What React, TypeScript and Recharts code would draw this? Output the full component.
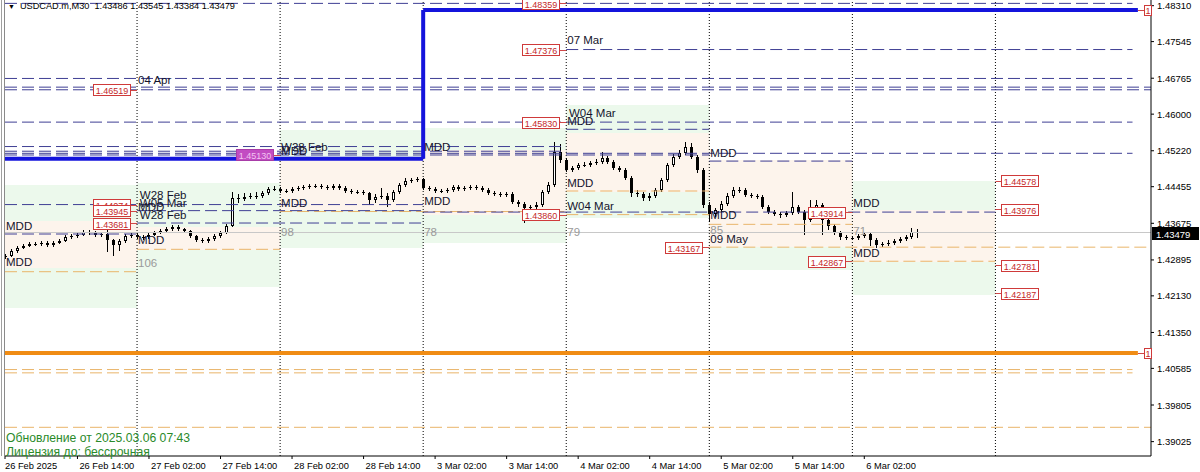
import React from 'react';
import { ComposedChart, Bar, XAxis, YAxis, ReferenceLine, ReferenceArea, ReferenceDot } from 'recharts';

const FONT = '"Liberation Sans", Arial, sans-serif';
const W = 1200;
const H = 472;
const X_MIN = 1.846;
const X_MAX = 194.1;
const Y_MAX = 1.48431;
const Y_MIN = 1.38719;

// ---- axis ticks ----
const timeTicks = [1.846, 14, 26, 38, 50, 62, 74, 86, 98, 110, 122, 134, 146];
const timeLabels = ['26 Feb 2025', '26 Feb 14:00', '27 Feb 02:00', '27 Feb 14:00', '28 Feb 02:00', '28 Feb 14:00', '3 Mar 02:00', '3 Mar 14:00', '4 Mar 02:00', '4 Mar 14:00', '5 Mar 02:00', '5 Mar 14:00', '6 Mar 02:00'];
const priceTicks = [1.4831, 1.47545, 1.46765, 1.46, 1.4522, 1.44455, 1.43675, 1.42895, 1.4213, 1.4135, 1.40585, 1.39805, 1.39025];
const daySeparators = [24, 48, 72, 96, 120, 144, 168];
const currentPrice = 1.43479;

// ---- candles (hourly, hours since 26 Feb 00:00, weekend removed) ----
const firstOpen = 1.4296;
const closes = [
  1.4298, 1.4309, 1.4315, 1.4319, 1.4323, 1.4323, 1.4326, 1.4321, 1.4326, 1.4330,
  1.4338, 1.4340, 1.4343, 1.4349, 1.4347, 1.4343, 1.4345, 1.4332, 1.4321, 1.4330,
  1.4340, 1.4343, 1.4338, 1.4338, 1.4343, 1.4347, 1.4351, 1.4355, 1.4360, 1.4355,
  1.4351, 1.4340, 1.4332, 1.4330, 1.4334, 1.4340, 1.4347, 1.4362, 1.4421, 1.4419,
  1.4424, 1.4426, 1.4426, 1.4432, 1.4441, 1.4441, 1.4436, 1.4436, 1.4441, 1.4443,
  1.4445, 1.4447, 1.4447, 1.4445, 1.4443, 1.4447, 1.4443, 1.4436, 1.4434, 1.4434,
  1.4432, 1.4417, 1.4424, 1.4426, 1.4417, 1.4434, 1.4449, 1.4458, 1.4460, 1.4462,
  1.4443, 1.4441, 1.4436, 1.4436, 1.4438, 1.4445, 1.4441, 1.4443, 1.4445, 1.4443,
  1.4438, 1.4432, 1.4430, 1.4428, 1.4430, 1.4413, 1.4409, 1.4400, 1.4402, 1.4407,
  1.4434, 1.4449, 1.4519, 1.4502, 1.4481, 1.4485, 1.4492, 1.4492, 1.4496, 1.4498,
  1.4507, 1.4498, 1.4485, 1.4481, 1.4464, 1.4432, 1.4430, 1.4421, 1.4426, 1.4438,
  1.4460, 1.4492, 1.4509, 1.4517, 1.4530, 1.4509, 1.4481, 1.4407, 1.4387, 1.4396,
  1.4409, 1.4426, 1.4438, 1.4438, 1.4428, 1.4426, 1.4424, 1.4402, 1.4392, 1.4387,
  1.4385, 1.4389, 1.4402, 1.4392, 1.4375, 1.4396, 1.4407, 1.4375, 1.4362, 1.4347,
  1.4338, 1.4336, 1.4336, 1.4340, 1.4345, 1.4332, 1.4321, 1.4323, 1.4326, 1.4330,
  1.4334, 1.4338, 1.4349, 1.4348,
];
const highs = [
  1.4302, 1.4313, 1.4319, 1.4323, 1.4327, 1.4328, 1.4330, 1.4329, 1.4330, 1.4334,
  1.4342, 1.4345, 1.4347, 1.4353, 1.4353, 1.4351, 1.4349, 1.4360, 1.4335, 1.4334,
  1.4344, 1.4348, 1.4347, 1.4343, 1.4347, 1.4351, 1.4355, 1.4359, 1.4364, 1.4363,
  1.4358, 1.4354, 1.4343, 1.4336, 1.4338, 1.4344, 1.4351, 1.4366, 1.4434, 1.4430,
  1.4432, 1.4432, 1.4434, 1.4437, 1.4445, 1.4447, 1.4445, 1.4441, 1.4445, 1.4448,
  1.4449, 1.4452, 1.4451, 1.4451, 1.4449, 1.4452, 1.4451, 1.4447, 1.4440, 1.4439,
  1.4438, 1.4435, 1.4429, 1.4443, 1.4431, 1.4439, 1.4454, 1.4463, 1.4465, 1.4467,
  1.4464, 1.4448, 1.4445, 1.4441, 1.4443, 1.4450, 1.4449, 1.4448, 1.4450, 1.4449,
  1.4447, 1.4442, 1.4436, 1.4434, 1.4435, 1.4434, 1.4417, 1.4413, 1.4407, 1.4413,
  1.4439, 1.4456, 1.4541, 1.4536, 1.4506, 1.4490, 1.4497, 1.4498, 1.4501, 1.4504,
  1.4519, 1.4511, 1.4502, 1.4489, 1.4485, 1.4468, 1.4439, 1.4435, 1.4431, 1.4443,
  1.4465, 1.4497, 1.4515, 1.4524, 1.4541, 1.4538, 1.4513, 1.4485, 1.4413, 1.4401,
  1.4414, 1.4431, 1.4444, 1.4444, 1.4442, 1.4432, 1.4430, 1.4428, 1.4406, 1.4396,
  1.4391, 1.4394, 1.4434, 1.4407, 1.4396, 1.4417, 1.4417, 1.4411, 1.4379, 1.4366,
  1.4351, 1.4342, 1.4341, 1.4345, 1.4350, 1.4349, 1.4336, 1.4328, 1.4331, 1.4335,
  1.4339, 1.4343, 1.4357, 1.4355,
];
const lows = [
  1.4292, 1.4295, 1.4305, 1.4312, 1.4316, 1.4319, 1.4320, 1.4317, 1.4318, 1.4323,
  1.4327, 1.4335, 1.4337, 1.4340, 1.4343, 1.4339, 1.4339, 1.4306, 1.4298, 1.4309,
  1.4326, 1.4336, 1.4334, 1.4333, 1.4335, 1.4340, 1.4344, 1.4348, 1.4352, 1.4351,
  1.4347, 1.4336, 1.4328, 1.4325, 1.4326, 1.4330, 1.4337, 1.4344, 1.4360, 1.4411,
  1.4415, 1.4419, 1.4420, 1.4422, 1.4428, 1.4436, 1.4432, 1.4431, 1.4433, 1.4437,
  1.4439, 1.4441, 1.4442, 1.4441, 1.4439, 1.4439, 1.4439, 1.4432, 1.4429, 1.4429,
  1.4427, 1.4407, 1.4411, 1.4419, 1.4402, 1.4413, 1.4430, 1.4445, 1.4454, 1.4455,
  1.4439, 1.4436, 1.4432, 1.4431, 1.4432, 1.4434, 1.4437, 1.4437, 1.4439, 1.4439,
  1.4434, 1.4428, 1.4426, 1.4423, 1.4424, 1.4409, 1.4403, 1.4368, 1.4393, 1.4397,
  1.4403, 1.4429, 1.4445, 1.4497, 1.4476, 1.4476, 1.4481, 1.4487, 1.4488, 1.4492,
  1.4494, 1.4493, 1.4480, 1.4476, 1.4459, 1.4424, 1.4423, 1.4416, 1.4415, 1.4422,
  1.4434, 1.4456, 1.4487, 1.4504, 1.4512, 1.4504, 1.4475, 1.4400, 1.4370, 1.4381,
  1.4391, 1.4404, 1.4421, 1.4432, 1.4423, 1.4421, 1.4419, 1.4397, 1.4387, 1.4382,
  1.4379, 1.4380, 1.4385, 1.4387, 1.4343, 1.4370, 1.4391, 1.4343, 1.4354, 1.4342,
  1.4333, 1.4331, 1.4331, 1.4332, 1.4336, 1.4320, 1.4315, 1.4317, 1.4319, 1.4322,
  1.4326, 1.4330, 1.4334, 1.4337,
];
const firstHour = 2;

// ---- shaded zones ----
const greenZones = [
  { from: 1.846, to: 24, top: 1.44491, bottom: 1.41871 },
  { from: 24, to: 48, top: 1.44533, bottom: 1.42318 },
  { from: 48, to: 72, top: 1.45662, bottom: 1.43149 },
  { from: 72, to: 96, top: 1.45705, bottom: 1.43255 },
  { from: 96, to: 120, top: 1.46195, bottom: 1.43788 },
  { from: 120, to: 144, top: 1.45023, bottom: 1.4268 },
  { from: 144, to: 168, top: 1.44576, bottom: 1.42148 },
];
const peachZones = [
  { from: 1.846, to: 24, top: 1.43724, bottom: 1.42723 },
  { from: 24, to: 48, top: 1.43596, bottom: 1.43106 },
  { from: 48, to: 72, top: 1.45023, bottom: 1.43958 },
  { from: 72, to: 96, top: 1.45236, bottom: 1.43852 },
  { from: 96, to: 120, top: 1.45598, bottom: 1.44342 },
  { from: 120, to: 144, top: 1.45023, bottom: 1.4317 },
  { from: 144, to: 168, top: 1.43958, bottom: 1.42851 },
];

// ---- horizontal levels ----
const navyLevels = [
  { price: 1.48359, from: 1.846, to: 191 },
  { price: 1.47376, from: 96, to: 191 },
  { price: 1.4676, from: 1.846, to: 191 },
  { price: 1.46575, from: 1.846, to: 194.1 },
  { price: 1.46519, from: 1.846, to: 194.1 },
  { price: 1.4583, from: 1.846, to: 191 },
  { price: 1.45677, from: 96, to: 120 },
  { price: 1.4531, from: 1.846, to: 96 },
  { price: 1.4521, from: 1.846, to: 96 },
  { price: 1.45166, from: 1.846, to: 191 },
  { price: 1.4513, from: 1.846, to: 120 },
  { price: 1.45, from: 120, to: 144 },
  { price: 1.44074, from: 1.846, to: 72 },
  { price: 1.43945, from: 24, to: 72 },
  { price: 1.43681, from: 24, to: 72 },
  { price: 1.43447, from: 1.846, to: 24 },
  { price: 1.43914, from: 72, to: 168 },
];
const orangeLevels = [
  { price: 1.42644, from: 1.846, to: 24 },
  { price: 1.43121, from: 24, to: 48 },
  { price: 1.43926, from: 48, to: 96 },
  { price: 1.44363, from: 96, to: 120 },
  { price: 1.4386, from: 96, to: 120 },
  { price: 1.43653, from: 120, to: 144 },
  { price: 1.43167, from: 120, to: 194.1 },
  { price: 1.42867, from: 144, to: 168 },
  { price: 1.4056, from: 1.846, to: 191 },
  { price: 1.4049, from: 1.846, to: 191 },
  { price: 1.3933, from: 1.846, to: 194.1 },
];
const weeklyBlue = { prevLevel: 1.4505, newLevel: 1.4822, switchAt: 72, end: 191.9 };
const orangeThick = { price: 1.40912, end: 191.9 };

// ---- annotations ----
const textNotes = [
  { t: 24, p: 1.46727, text: '04 Apr', grey: false },
  { t: 96, p: 1.47579, text: '07 Mar', grey: false },
  { t: 96.3, p: 1.46024, text: 'W04 Mar', grey: false },
  { t: 96, p: 1.45854, text: 'MDD', grey: false },
  { t: 48, p: 1.453, text: 'W28 Feb', grey: false },
  { t: 48, p: 1.45215, text: 'MDD', grey: false },
  { t: 72, p: 1.453, text: 'MDD', grey: false },
  { t: 24.3, p: 1.44278, text: 'W28 Feb', grey: false },
  { t: 24.3, p: 1.44107, text: 'W05 Mar', grey: false },
  { t: 24, p: 1.44022, text: 'MDD', grey: false },
  { t: 24.3, p: 1.43852, text: 'W28 Feb', grey: false },
  { t: 1.846, p: 1.43617, text: 'MDD', grey: false },
  { t: 24, p: 1.43319, text: 'MDD', grey: false },
  { t: 1.846, p: 1.42851, text: 'MDD', grey: false },
  { t: 24, p: 1.42829, text: '106', grey: true },
  { t: 48, p: 1.44107, text: 'MDD', grey: false },
  { t: 48, p: 1.4349, text: '98', grey: true },
  { t: 72, p: 1.4415, text: 'MDD', grey: false },
  { t: 72, p: 1.4349, text: '78', grey: true },
  { t: 96, p: 1.44533, text: 'MDD', grey: false },
  { t: 96, p: 1.44043, text: 'W04 Mar', grey: false },
  { t: 96, p: 1.4349, text: '79', grey: true },
  { t: 120, p: 1.45172, text: 'MDD', grey: false },
  { t: 120, p: 1.43852, text: 'MDD', grey: false },
  { t: 120, p: 1.43532, text: '85', grey: true },
  { t: 120, p: 1.4334, text: '09 May', grey: false },
  { t: 144, p: 1.44107, text: 'MDD', grey: false },
  { t: 144, p: 1.43511, text: '71', grey: true },
  { t: 144, p: 1.43042, text: 'MDD', grey: false },
];
const priceBoxes = [
  { t: 96, p: 1.48359, side: 'left' },
  { t: 96, p: 1.47376, side: 'left' },
  { t: 24, p: 1.46519, side: 'left' },
  { t: 96, p: 1.4583, side: 'left' },
  { t: 48, p: 1.4513, side: 'left', purple: true },
  { t: 24, p: 1.44074, side: 'left' },
  { t: 24, p: 1.43945, side: 'left' },
  { t: 24, p: 1.43681, side: 'left' },
  { t: 96, p: 1.4386, side: 'left' },
  { t: 120, p: 1.43167, side: 'left' },
  { t: 144, p: 1.43914, side: 'left' },
  { t: 144, p: 1.42867, side: 'left' },
  { t: 168, p: 1.44578, side: 'right' },
  { t: 168, p: 1.43976, side: 'right' },
  { t: 168, p: 1.42781, side: 'right' },
  { t: 168, p: 1.42187, side: 'right' },
];

const headerText = 'USDCAD.m,M30  1.43486 1.43545 1.43384 1.43479';
const infoLines = ['Обновление от 2025.03.06 07:43', 'Лицензия до: бессрочная'];

const candles = closes.map((c, i) => ({
  t: firstHour + i,
  o: i === 0 ? firstOpen : closes[i - 1],
  h: highs[i],
  l: lows[i],
  c,
}));

const NAVY = '#3f3f94';
const ORANGE = '#e9b56a';
const GREEN_BG = '#ecf9ec';
const PEACH_BG = '#fdf4ec';

const Candle = (props: any) => {
  const { x, y, width, height, payload } = props;
  if (!payload || x == null) return null;
  const top = Math.min(y, y + height);
  const hgt = Math.abs(height);
  const { o, h, l, c } = payload;
  const span = h - l || 1e-9;
  const py = (p: number) => top + ((h - p) / span) * hgt;
  const px = Math.round(x + width / 2);
  const bTop = Math.round(py(Math.max(o, c)));
  const bBot = Math.max(bTop + 1, Math.round(py(Math.min(o, c))));
  const bull = c >= o;
  return (
    <g shapeRendering="crispEdges">
      <rect x={px} y={top} width={1} height={hgt} fill="#000" />
      <rect x={px - 1} y={bTop} width={3} height={bBot - bTop} fill="#000" />
      {bull && bBot - bTop > 2 ? <rect x={px} y={bTop + 1} width={1} height={bBot - bTop - 2} fill="#fff" /> : null}
    </g>
  );
};

const XTick = (props: any) => {
  const { x, y, payload } = props;
  const idx = timeTicks.indexOf(payload.value);
  const label = idx >= 0 ? timeLabels[idx] : '';
  return (
    <text x={x + (idx === 0 ? 0 : 2)} y={y + 5} fontSize={9.3} fontFamily={FONT} fill="#000" textAnchor="start" dominantBaseline="central">
      {label}
    </text>
  );
};

const YTick = (props: any) => {
  const { x, y, payload } = props;
  return (
    <text x={x} y={y} fontSize={9.5} fontFamily={FONT} fill="#000" textAnchor="start" dominantBaseline="central">
      {payload.value.toFixed(5)}
    </text>
  );
};

const NoteShape = (note: { text: string; grey: boolean }) => (props: any) => {
  const { cx, cy } = props;
  return (
    <text x={cx + 1} y={cy} fontSize={11.5} fontFamily={FONT} fill={note.grey ? '#9a9a9a' : '#14142c'} dominantBaseline="central">
      {note.text}
    </text>
  );
};

const BoxShape = (box: { p: number; side: string; purple?: boolean }) => (props: any) => {
  const { cx, cy } = props;
  const w = 37;
  const h = 11;
  const bx = box.side === 'left' ? Math.round(cx) - 7 - w : Math.round(cx) + 6;
  const by = Math.round(cy - h / 2);
  return (
    <g>
      <line
        x1={box.side === 'left' ? bx + w : cx}
        x2={box.side === 'left' ? cx : bx}
        y1={Math.round(cy) + 0.5}
        y2={Math.round(cy) + 0.5}
        stroke="#d04848"
        strokeWidth={1}
      />
      <rect x={bx + 0.5} y={by + 0.5} width={w} height={h} fill={box.purple ? '#c24cc2' : '#fff'} stroke={box.purple ? '#a83ca8' : '#cf3a3a'} strokeWidth={1} />
      <text x={bx + w / 2 + 0.5} y={by + h / 2 + 1} textAnchor="middle" dominantBaseline="central" fontSize={9} fontFamily={FONT} fill={box.purple ? '#f2c4f2' : '#c42828'}>
        {box.p.toFixed(5)}
      </text>
    </g>
  );
};

const EndBox = (props: any) => {
  const { cx, cy } = props;
  const bx = Math.round(cx) - 7;
  const by = Math.round(cy) - 5;
  return (
    <g>
      <line x1={bx - 6} x2={bx} y1={Math.round(cy) + 0.5} y2={Math.round(cy) + 0.5} stroke="#d04848" />
      <rect x={bx + 0.5} y={by + 0.5} width={7} height={10} fill="#fff" stroke="#cf3a3a" />
      <text x={bx + 4} y={by + 6} textAnchor="middle" dominantBaseline="central" fontSize={9} fontFamily={FONT} fill="#c42828">1</text>
    </g>
  );
};

const PriceTag = (props: any) => {
  const { cx, cy } = props;
  return (
    <g>
      <rect x={cx + 1} y={Math.round(cy) - 6} width={47} height={13} fill="#000" />
      <text x={cx + 5} y={Math.round(cy) + 1} fontSize={9.5} fontFamily={FONT} fill="#fff" dominantBaseline="central">
        {currentPrice.toFixed(5)}
      </text>
    </g>
  );
};

export default function App() {
  return (
    <div style={{ position: 'absolute', left: 0, top: 0, width: W, height: H, background: '#fff', overflow: 'hidden' }}>
      <ComposedChart width={W} height={H} data={candles} margin={{ top: 0, right: 0, bottom: 0, left: 5 }}>
        <XAxis
          dataKey="t"
          type="number"
          domain={[X_MIN, X_MAX]}
          allowDataOverflow
          ticks={timeTicks}
          interval={0}
          height={16}
          tick={<XTick />}
          tickSize={3}
          axisLine={{ stroke: '#000' }}
          tickLine={{ stroke: '#000' }}
        />
        <YAxis
          orientation="right"
          type="number"
          domain={[Y_MIN, Y_MAX]}
          allowDataOverflow
          ticks={priceTicks}
          interval={0}
          width={49}
          tick={<YTick />}
          tickSize={3}
          tickMargin={3}
          axisLine={{ stroke: '#000' }}
          tickLine={{ stroke: '#000' }}
        />
        {greenZones.map((z, i) => (
          <ReferenceArea key={'g' + i} x1={z.from} x2={z.to} y1={z.bottom} y2={z.top} fill={GREEN_BG} fillOpacity={1} stroke="none" ifOverflow="hidden" />
        ))}
        {peachZones.map((z, i) => (
          <ReferenceArea key={'p' + i} x1={z.from} x2={z.to} y1={z.bottom} y2={z.top} fill={PEACH_BG} fillOpacity={1} stroke="none" ifOverflow="hidden" />
        ))}
        <ReferenceLine y={currentPrice} stroke="#c8c8c8" strokeWidth={1} />
        {daySeparators.map((t) => (
          <ReferenceLine key={'s' + t} x={t} stroke="#000" strokeDasharray="1 2" strokeWidth={1} />
        ))}
        {orangeLevels.map((l, i) => (
          <ReferenceLine key={'o' + i} segment={[{ x: l.from, y: l.price }, { x: l.to, y: l.price }]} stroke={ORANGE} strokeWidth={1} strokeDasharray="12 5" ifOverflow="visible" />
        ))}
        {navyLevels.map((l, i) => (
          <ReferenceLine key={'n' + i} segment={[{ x: l.from, y: l.price }, { x: l.to, y: l.price }]} stroke={NAVY} strokeWidth={1} strokeDasharray="12 5" ifOverflow="visible" />
        ))}
        <ReferenceLine segment={[{ x: X_MIN, y: weeklyBlue.prevLevel }, { x: weeklyBlue.switchAt, y: weeklyBlue.prevLevel }]} stroke="#1414dc" strokeWidth={4} ifOverflow="visible" />
        <ReferenceLine segment={[{ x: weeklyBlue.switchAt, y: weeklyBlue.prevLevel }, { x: weeklyBlue.switchAt, y: weeklyBlue.newLevel }]} stroke="#1414dc" strokeWidth={4} ifOverflow="visible" />
        <ReferenceLine segment={[{ x: weeklyBlue.switchAt, y: weeklyBlue.newLevel }, { x: weeklyBlue.end, y: weeklyBlue.newLevel }]} stroke="#1414dc" strokeWidth={4} ifOverflow="visible" />
        <ReferenceLine segment={[{ x: X_MIN, y: orangeThick.price }, { x: orangeThick.end, y: orangeThick.price }]} stroke="#f08c14" strokeWidth={4} ifOverflow="visible" />
        <Bar dataKey={(d: any) => [d.l, d.h]} barSize={3} isAnimationActive={false} shape={(p: any) => <Candle {...p} />} />
        {priceBoxes.map((b, i) => (
          <ReferenceDot key={'b' + i} x={b.t} y={b.p} r={0} ifOverflow="visible" shape={BoxShape(b)} />
        ))}
        {textNotes.map((n, i) => (
          <ReferenceDot key={'t' + i} x={n.t} y={n.p} r={0} ifOverflow="visible" shape={NoteShape(n)} />
        ))}
        <ReferenceDot x={X_MAX} y={weeklyBlue.newLevel} r={0} ifOverflow="visible" shape={EndBox} />
        <ReferenceDot x={X_MAX} y={orangeThick.price} r={0} ifOverflow="visible" shape={EndBox} />
        <ReferenceDot x={X_MAX} y={currentPrice} r={0} ifOverflow="visible" shape={PriceTag} />
      </ComposedChart>
      <div style={{ position: 'absolute', left: 1, top: 0, width: 1, height: 456, background: '#a0a0a0' }} />
      <div style={{ position: 'absolute', left: 4, top: 0, width: 1, height: 456, background: '#8a8a8a' }} />
      <div style={{ position: 'absolute', left: 8, top: 1, fontFamily: FONT, fontSize: 9.2, color: '#000', whiteSpace: 'pre', lineHeight: '11px' }}>
        <span style={{ fontSize: 7, marginRight: 5 }}>▼</span>
        {headerText}
      </div>
      <div style={{ position: 'absolute', left: 6, top: 431, fontFamily: FONT, fontSize: 12.2, color: '#2a8a2a', lineHeight: '14px', whiteSpace: 'pre' }}>
        {infoLines.map((s) => (
          <div key={s}>{s}</div>
        ))}
      </div>
    </div>
  );
}
